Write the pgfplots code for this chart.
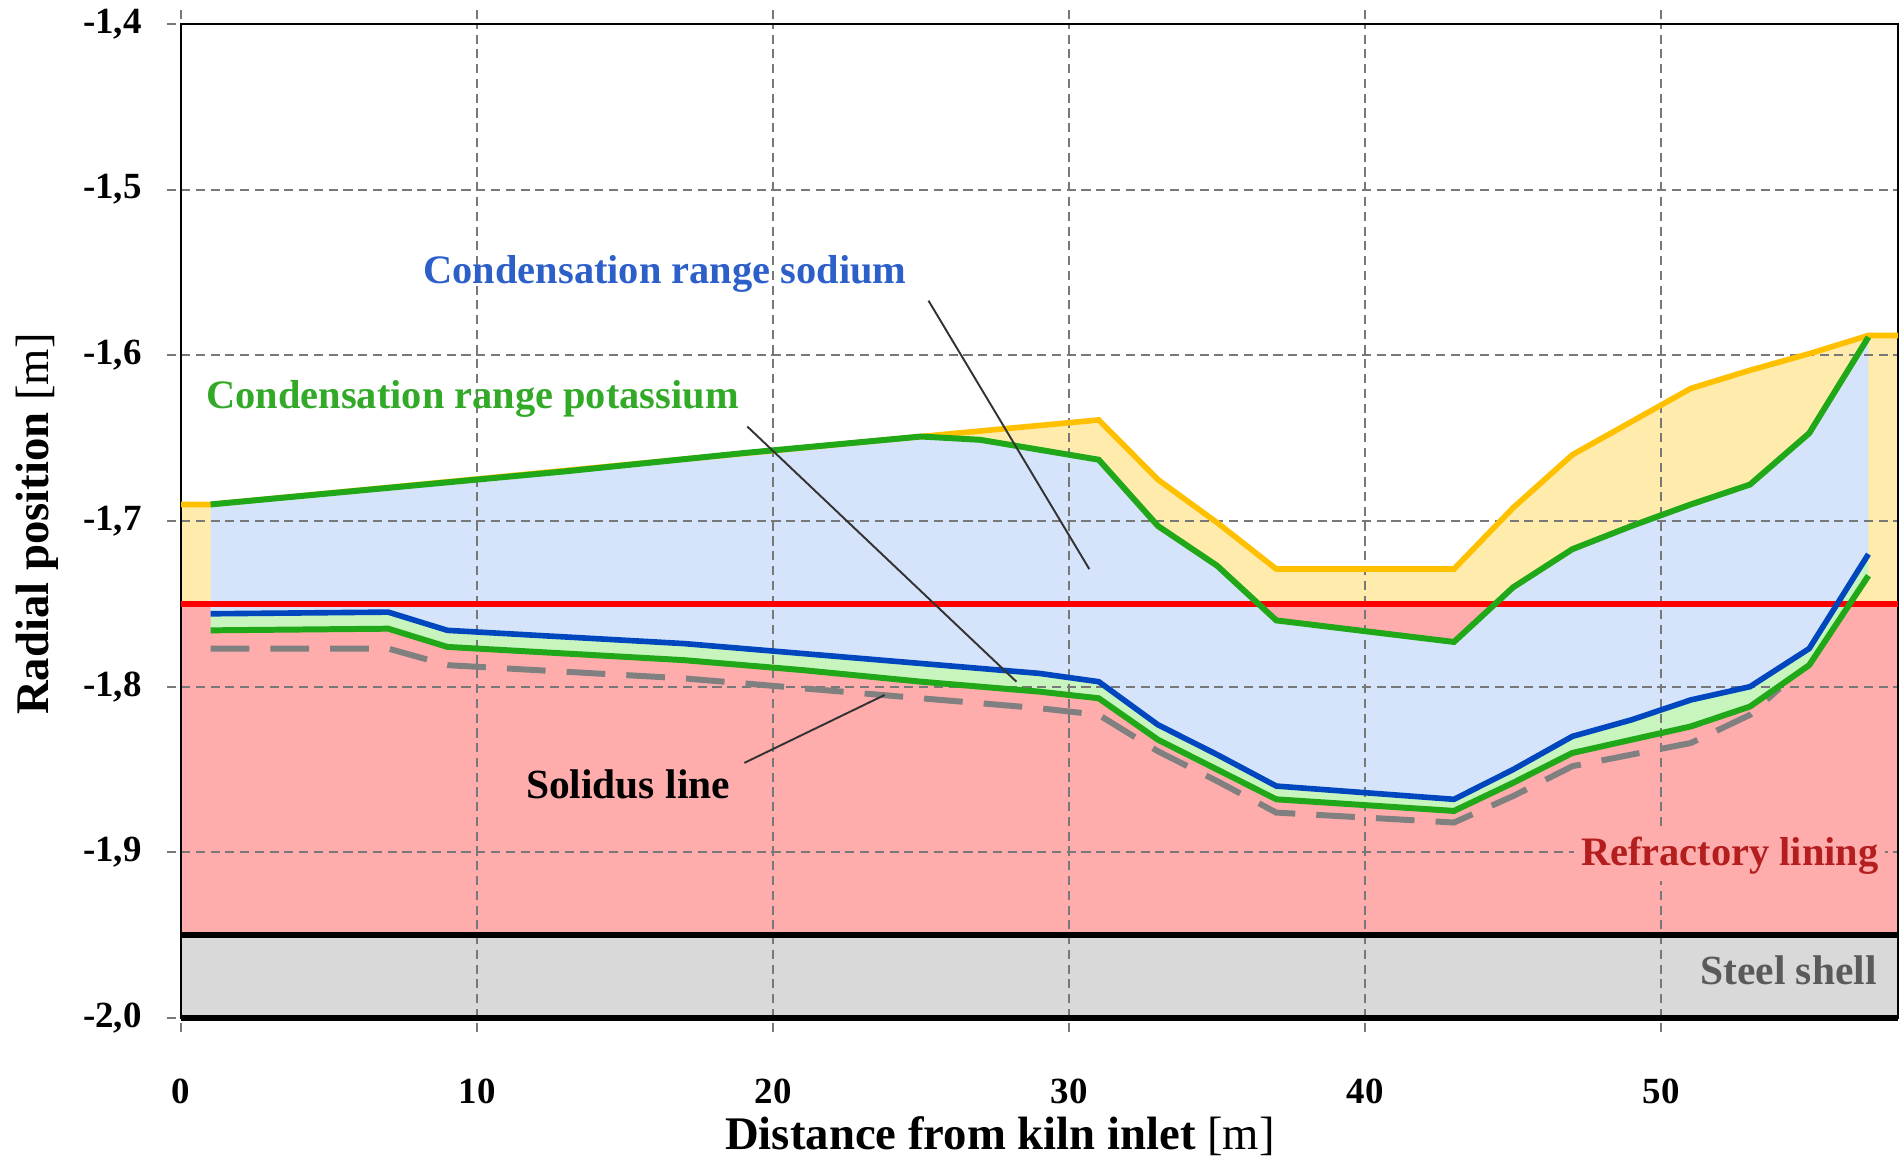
\documentclass[border=0pt]{standalone}
\usepackage{fontspec}
\setmainfont{Liberation Serif}
\usepackage{pgfplots}
\pgfplotsset{compat=1.18}

\definecolor{yline}{RGB}{255,192,0}
\definecolor{yfill}{RGB}{255,236,172}
\definecolor{bfill}{RGB}{213,228,250}
\definecolor{pfill}{RGB}{255,172,172}
\definecolor{lgfill}{RGB}{200,245,190}
\definecolor{gline}{RGB}{32,168,24}
\definecolor{bline}{RGB}{0,70,190}
\definecolor{rline}{RGB}{255,0,0}
\definecolor{sline}{RGB}{128,128,128}
\definecolor{steelfill}{RGB}{217,217,217}
\definecolor{natext}{RGB}{45,95,200}
\definecolor{ktext}{RGB}{50,170,40}
\definecolor{reftext}{RGB}{180,30,30}
\definecolor{steeltext}{RGB}{90,90,90}
\definecolor{gridgray}{RGB}{120,120,120}

\begin{document}
\begin{tikzpicture}
\begin{axis}[
  name=ax, set layers, clip=false,
  scale only axis, width=17.17cm, height=9.94cm,
  xmin=0, xmax=58, ymin=-2, ymax=-1.4,
  xtick={0,10,20,30,40,50},
  xticklabels={0,10,20,30,40,50},
  ytick={-2,-1.9,-1.8,-1.7,-1.6,-1.5,-1.4},
  yticklabels={{-2,0},{-1,9},{-1,8},{-1,7},{-1,6},{-1,5},{-1,4}},
  grid=major,
  grid style={gridgray, line width=0.5pt, dash pattern=on 2.6pt off 1.6pt},
  tick align=outside, major tick length=0.14cm,
  tick style={gridgray, line width=0.5pt, dash pattern=on 2.6pt off 1.6pt},
  axis line style={black, line width=0.7pt},
  ticklabel style={font=\fontsize{10.5}{12}\selectfont\bfseries},
  xticklabel style={yshift=-0.345cm},
  yticklabel style={xshift=-0.13cm},
  xlabel={\textbf{Distance from kiln inlet} [m]},
  ylabel={\textbf{Radial position} [m]},
  label style={font=\fontsize{13.3}{15}\selectfont},
  xlabel style={at={(axis description cs:0.477,-0.132)}, anchor=base},
  ylabel style={at={(axis description cs:-0.0772,0.497)}, anchor=base},
]
% ---- background fills ----
\addplot[draw=none, fill=pfill, on layer=axis background] coordinates {(0,-1.95)(58,-1.95)(58,-1.75)(0,-1.75)} -- cycle;
\addplot[draw=none, fill=steelfill, on layer=axis background] coordinates {(0,-2.0)(58,-2.0)(58,-1.95)(0,-1.95)} -- cycle;
% sodium range (yellow) down to lining
\addplot[draw=none, fill=yfill, on layer=axis background] coordinates {
 (0,-1.690)(1,-1.690)(25,-1.649)(31,-1.639)(33,-1.675)(35,-1.701)(37,-1.729)(43,-1.729)(45,-1.692)(47,-1.660)(51,-1.620)(53,-1.609)(55,-1.599)(57,-1.588)(58,-1.588)
 (58,-1.75)(0,-1.75)} -- cycle;
% blue: potassium upper to sodium lower
\addplot[draw=none, fill=bfill, on layer=axis background] coordinates {
 (1,-1.690)(7,-1.680)(13,-1.670)(19,-1.659)(25,-1.649)(27,-1.651)(31,-1.663)(33,-1.703)(35,-1.727)(37,-1.760)(43,-1.773)(45,-1.740)(47,-1.717)(49,-1.703)(51,-1.690)(53,-1.678)(55,-1.647)(57,-1.589)
 (57,-1.720)(55,-1.777)(53,-1.800)(51,-1.808)(49,-1.820)(47,-1.830)(45,-1.850)(43,-1.868)(37,-1.860)(35,-1.841)(33,-1.823)(31,-1.797)(29,-1.792)(25,-1.786)(21,-1.780)(17,-1.774)(13,-1.770)(9,-1.766)(7,-1.755)(1,-1.756)} -- cycle;
% light green: sodium lower to potassium lower
\addplot[draw=none, fill=lgfill, on layer=axis background] coordinates {
 (1,-1.756)(7,-1.755)(9,-1.766)(13,-1.770)(17,-1.774)(21,-1.780)(25,-1.786)(29,-1.792)(31,-1.797)(33,-1.823)(35,-1.841)(37,-1.860)(43,-1.868)(45,-1.850)(47,-1.830)(49,-1.820)(51,-1.808)(53,-1.800)(55,-1.777)(57,-1.720)
 (57,-1.733)(55,-1.787)(53,-1.812)(51,-1.824)(49,-1.832)(47,-1.840)(45,-1.858)(43,-1.875)(37,-1.868)(35,-1.850)(33,-1.832)(31,-1.807)(29,-1.803)(25,-1.797)(21,-1.790)(17,-1.784)(13,-1.780)(9,-1.776)(7,-1.765)(1,-1.766)} -- cycle;

% ---- lines ----
\addplot[rline, line width=1.6pt] coordinates {(0,-1.75)(58,-1.75)};
\addplot[yline, line width=1.6pt] coordinates {
 (0,-1.690)(1,-1.690)(25,-1.649)(31,-1.639)(33,-1.675)(35,-1.701)(37,-1.729)(43,-1.729)(45,-1.692)(47,-1.660)(51,-1.620)(53,-1.609)(55,-1.599)(57,-1.588)(58,-1.588)};
\addplot[gline, line width=1.7pt] coordinates {
 (1,-1.690)(7,-1.680)(13,-1.670)(19,-1.659)(25,-1.649)(27,-1.651)(31,-1.663)(33,-1.703)(35,-1.727)(37,-1.760)(43,-1.773)(45,-1.740)(47,-1.717)(49,-1.703)(51,-1.690)(53,-1.678)(55,-1.647)(57,-1.589)};
\addplot[sline, line width=1.7pt, dash pattern=on 11pt off 6pt] coordinates {
 (1,-1.777)(7,-1.777)(9,-1.787)(13,-1.791)(17,-1.795)(21,-1.801)(25,-1.807)(29,-1.813)(31,-1.817)(33,-1.839)(35,-1.857)(37,-1.876)(43,-1.882)(45,-1.866)(47,-1.848)(49,-1.841)(51,-1.834)(53,-1.817)(54,-1.801)};
\addplot[gline, line width=1.7pt] coordinates {
 (1,-1.766)(7,-1.765)(9,-1.776)(13,-1.780)(17,-1.784)(21,-1.790)(25,-1.797)(29,-1.803)(31,-1.807)(33,-1.832)(35,-1.850)(37,-1.868)(43,-1.875)(45,-1.858)(47,-1.840)(49,-1.832)(51,-1.824)(53,-1.812)(55,-1.787)(57,-1.733)};
\addplot[bline, line width=1.6pt] coordinates {
 (1,-1.756)(7,-1.755)(9,-1.766)(13,-1.770)(17,-1.774)(21,-1.780)(25,-1.786)(29,-1.792)(31,-1.797)(33,-1.823)(35,-1.841)(37,-1.860)(43,-1.868)(45,-1.850)(47,-1.830)(49,-1.820)(51,-1.808)(53,-1.800)(55,-1.777)(57,-1.720)};
\addplot[black, line width=1.7pt] coordinates {(0,-1.95)(58,-1.95)};
\addplot[black, line width=1.7pt] coordinates {(0,-2.0)(58,-2.0)};

% ---- annotations ----
\draw[black!80, line width=0.55pt] (axis cs:25.25,-1.567) -- (axis cs:30.68,-1.729);
\draw[black!80, line width=0.55pt] (axis cs:19.13,-1.643) -- (axis cs:28.22,-1.797);
\draw[black!80, line width=0.55pt] (axis cs:19.03,-1.846) -- (axis cs:23.77,-1.805);
\node[anchor=base, text=natext, font=\fontsize{11.5}{13}\selectfont\bfseries] at (axis cs:16.35,-1.5565) {Condensation range sodium};
\node[anchor=base, text=ktext, font=\fontsize{11.5}{13}\selectfont\bfseries] at (axis cs:9.85,-1.632) {Condensation range potassium};
\node[anchor=base, text=black, font=\fontsize{11.8}{13}\selectfont\bfseries] at (axis cs:15.1,-1.8673) {Solidus line};
\node[anchor=base east, text=reftext, fill=pfill, inner sep=2pt, font=\fontsize{11.5}{13}\selectfont\bfseries] at (axis cs:57.6,-1.9077) {Refractory lining};
\node[anchor=base east, text=steeltext, inner sep=0pt, font=\fontsize{11.8}{13}\selectfont\bfseries] at (axis cs:57.3,-1.980) {Steel shell};
\end{axis}
\pgfresetboundingbox
\path[use as bounding box] ([shift={(-1.81cm,-1.40cm)}]ax.south west) rectangle ([shift={(0.02cm,0.24cm)}]ax.north east);
\end{tikzpicture}
\end{document}
